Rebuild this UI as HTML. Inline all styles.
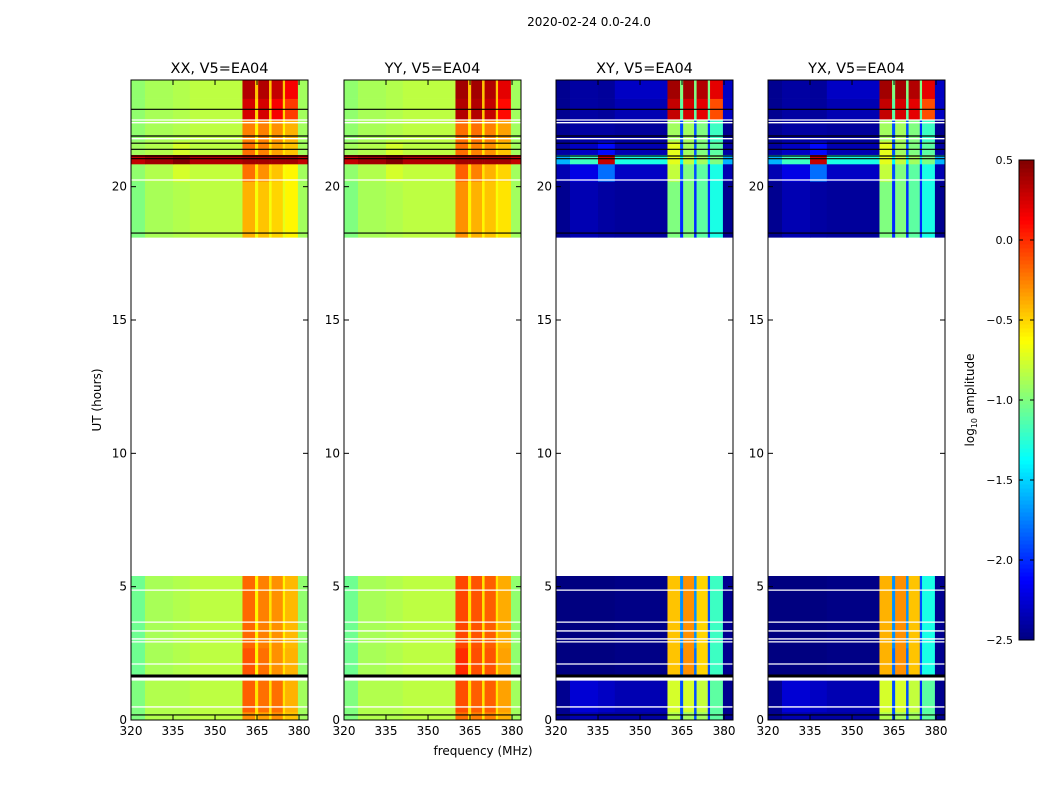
<!DOCTYPE html>
<html><head><meta charset="utf-8"><style>
body{margin:0;background:#fff;}
svg text{font-family:"DejaVu Sans","Liberation Sans",sans-serif;fill:#000;}
</style></head><body>
<svg id="chart" width="1050" height="800" xmlns="http://www.w3.org/2000/svg">
<text x="589" y="26" font-size="12" text-anchor="middle">2020-02-24 0.0-24.0</text>
<text x="101" y="400" font-size="12" text-anchor="middle" transform="rotate(-90 101 400)">UT (hours)</text>
<text x="483" y="755" font-size="12" text-anchor="middle">frequency (MHz)</text>
<g id="panels"></g>
<g id="cbar"></g>
</svg>
<script>
const panelNames = ["XX, V5=EA04","YY, V5=EA04","XY, V5=EA04","YX, V5=EA04"];
const freqEdges = [320,325,335,341,359.8,364.3,365.4,369.3,370.2,374.2,375,379.6,383.2];
const timeEdges = [[0,0.3],[0.3,1.5],[1.65,2.7],[2.7,5.4],[18.1,20.2],[20.2,20.85],[20.85,21.2],[21.2,21.7],[21.7,22.5],[22.5,23.3],[23.3,24]];
const xxValues = [
[-1.0,-0.85,-0.85,-0.82,-0.3,-0.55,-0.35,-0.55,-0.3,-0.55,-0.45,-0.9],
[-1.0,-0.85,-0.85,-0.82,-0.15,-0.55,-0.2,-0.55,-0.2,-0.55,-0.4,-0.9],
[-1.05,-0.88,-0.85,-0.82,-0.12,-0.6,-0.2,-0.55,-0.3,-0.55,-0.4,-0.95],
[-1.05,-0.88,-0.85,-0.82,-0.18,-0.6,-0.25,-0.55,-0.3,-0.6,-0.42,-0.95],
[-1.0,-0.88,-0.85,-0.82,-0.4,-0.65,-0.45,-0.65,-0.5,-0.7,-0.6,-0.9],
[-0.95,-0.85,-0.75,-0.8,-0.2,-0.55,-0.3,-0.55,-0.45,-0.65,-0.6,-0.9],
[0.3,0.4,0.5,0.35,0.4,0.4,0.4,0.4,0.4,0.4,0.4,0.3],
[-0.9,-0.85,-0.75,-0.82,-0.2,-0.55,-0.25,-0.55,-0.35,-0.55,-0.45,-0.9],
[-0.95,-0.88,-0.85,-0.82,-0.25,-0.6,-0.25,-0.6,-0.3,-0.6,-0.4,-0.9],
[-0.95,-0.88,-0.85,-0.82,0.25,-0.5,0.25,-0.5,0.15,-0.5,-0.05,-0.9],
[-0.95,-0.88,-0.85,-0.82,0.35,-0.45,0.35,-0.45,0.3,-0.45,0.15,-0.9]];
const yyValues = [
[-1.0,-0.85,-0.85,-0.82,-0.2,-0.55,-0.25,-0.55,-0.25,-0.55,-0.4,-0.9],
[-1.0,-0.85,-0.85,-0.82,-0.1,-0.55,-0.15,-0.55,-0.15,-0.55,-0.35,-0.9],
[-1.05,-0.88,-0.85,-0.82,0.0,-0.55,-0.1,-0.55,-0.12,-0.55,-0.35,-0.95],
[-1.05,-0.88,-0.85,-0.82,-0.08,-0.55,-0.12,-0.55,-0.15,-0.55,-0.38,-0.95],
[-1.0,-0.88,-0.85,-0.82,-0.3,-0.6,-0.4,-0.6,-0.45,-0.65,-0.55,-0.9],
[-0.95,-0.85,-0.75,-0.8,-0.15,-0.55,-0.25,-0.55,-0.4,-0.6,-0.5,-0.9],
[0.3,0.4,0.5,0.35,0.4,0.4,0.4,0.4,0.4,0.4,0.4,0.3],
[-0.9,-0.85,-0.75,-0.82,-0.2,-0.55,-0.25,-0.55,-0.3,-0.55,-0.45,-0.9],
[-0.95,-0.88,-0.85,-0.82,-0.2,-0.6,-0.2,-0.6,-0.25,-0.6,-0.35,-0.9],
[-0.95,-0.88,-0.85,-0.82,0.35,-0.45,0.35,-0.45,0.3,-0.45,0.1,-0.9],
[-0.95,-0.88,-0.85,-0.82,0.4,-0.45,0.4,-0.45,0.35,-0.45,0.2,-0.9]];
const xyValues = [
[-2.45,-2.35,-2.4,-2.4,-0.85,-1.9,-0.9,-1.9,-0.9,-2.0,-1.1,-2.45],
[-2.45,-2.25,-2.3,-2.35,-0.75,-1.9,-0.75,-1.9,-0.8,-2.0,-1.1,-2.45],
[-2.5,-2.5,-2.5,-2.48,-0.45,-1.8,-0.3,-1.8,-0.5,-1.9,-1.2,-2.45],
[-2.5,-2.5,-2.5,-2.48,-0.45,-1.7,-0.3,-1.7,-0.5,-1.9,-1.2,-2.45],
[-2.45,-2.35,-2.4,-2.42,-1.0,-2.0,-1.0,-2.0,-1.1,-2.0,-1.3,-2.45],
[-2.35,-2.2,-1.8,-2.3,-0.8,-1.9,-1.0,-1.9,-1.1,-2.0,-1.3,-2.35],
[-1.6,-1.2,0.3,-1.3,-0.7,-1.4,-0.8,-1.4,-0.9,-1.4,-1.0,-1.6],
[-2.4,-2.3,-2.1,-2.35,-0.7,-1.9,-0.9,-1.9,-1.0,-2.0,-1.1,-2.4],
[-2.45,-2.4,-2.4,-2.42,-0.9,-1.9,-0.9,-1.9,-1.0,-2.0,-1.2,-2.45],
[-2.45,-2.4,-2.42,-2.35,0.3,-1.1,0.25,-1.1,0.2,-1.1,-0.1,-2.3],
[-2.45,-2.4,-2.42,-2.3,0.4,-1.0,0.4,-1.0,0.35,-1.0,0.2,-2.3]];
const yxValues = [
[-2.45,-2.35,-2.4,-2.4,-0.85,-1.9,-0.9,-1.9,-0.9,-2.0,-1.1,-2.45],
[-2.45,-2.25,-2.3,-2.35,-0.75,-1.9,-0.75,-1.9,-0.8,-2.0,-1.1,-2.45],
[-2.5,-2.5,-2.5,-2.48,-0.4,-1.8,-0.3,-1.8,-0.45,-1.9,-1.3,-2.45],
[-2.5,-2.5,-2.5,-2.48,-0.4,-1.7,-0.3,-1.7,-0.45,-1.9,-1.3,-2.45],
[-2.45,-2.35,-2.4,-2.42,-1.0,-2.0,-1.0,-2.0,-1.1,-2.0,-1.3,-2.45],
[-2.35,-2.2,-1.8,-2.3,-0.8,-1.9,-1.0,-1.9,-1.1,-2.0,-1.3,-2.35],
[-1.6,-1.2,0.3,-1.3,-0.7,-1.4,-0.8,-1.4,-0.9,-1.4,-1.0,-1.6],
[-2.4,-2.3,-2.1,-2.35,-0.7,-1.9,-0.9,-1.9,-1.0,-2.0,-1.1,-2.4],
[-2.45,-2.4,-2.4,-2.42,-0.9,-1.9,-0.9,-1.9,-1.0,-2.0,-1.2,-2.45],
[-2.45,-2.4,-2.42,-2.35,0.3,-1.1,0.25,-1.1,0.2,-1.1,-0.1,-2.3],
[-2.45,-2.4,-2.42,-2.3,0.4,-1.0,0.4,-1.0,0.35,-1.0,0.2,-2.3]];
const panelValues = [xxValues, yyValues, xyValues, yxValues];
const blackLines = [0.19,1.65,18.26,21.05,21.15,21.4,21.63,21.9,22.9];
const whiteLines = [0.49,1.5,2.1,2.93,3.04,3.34,3.67,4.87,20.25,21.8,22.4,22.5];
const yTicks = [0,5,10,15,20];
const xTicks = [320,335,350,365,380];
const cbarTicks = [-2.5,-2.0,-1.5,-1.0,-0.5,0.0,0.5];

const NS="http://www.w3.org/2000/svg";
const panelX=[131,344,556,768], PW=177, PT=80, PB=720;
const FMIN=320, FMAX=383.2, TMIN=0, TMAX=24, VMIN=-2.5, VMAX=0.5;
function mk(tag,attrs,parent){const e=document.createElementNS(NS,tag);for(const k in attrs)e.setAttribute(k,attrs[k]);parent.appendChild(e);return e;}
function jet(v){let x=(v-VMIN)/(VMAX-VMIN);x=Math.max(0,Math.min(1,x));
 const c=t=>Math.round(255*Math.max(0,Math.min(1,1.5-Math.abs(t))));
 return `rgb(${c(4*x-3)},${c(4*x-2)},${c(4*x-1)})`;}
const pg=document.getElementById('panels');
panelX.forEach((x0,p)=>{
 const xs=f=>x0+(f-FMIN)/(FMAX-FMIN)*PW;
 const ys=t=>PB-(t-TMIN)/(TMAX-TMIN)*(PB-PT);
 const g=mk('g',{},pg);
 
 
 const vals=panelValues[p];
 timeEdges.forEach((te,r)=>{
  for(let c=0;c<freqEdges.length-1;c++){
   const rc=mk('rect',{x:xs(freqEdges[c]),y:ys(te[1]),width:xs(freqEdges[c+1])-xs(freqEdges[c])+0.3,height:ys(te[0])-ys(te[1])+0.3,fill:jet(vals[r][c])},g);
   
   
  }
 });
 blackLines.forEach(t=>{const l=mk('line',{x1:x0,x2:x0+PW,y1:ys(t),y2:ys(t),stroke:'#000','stroke-width':(t===1.65?3:1.2)},g);
  
  });
 whiteLines.forEach(t=>{const l=mk('line',{x1:x0,x2:x0+PW,y1:ys(t),y2:ys(t),stroke:'#fff','stroke-width':1.3},g);
  
  });
 const fr=mk('rect',{x:x0,y:PT,width:PW,height:PB-PT,fill:'none',stroke:'#000','stroke-width':1},g);
 
 
 const tt=mk('text',{x:x0+PW/2,y:PT-7,'font-size':'14.5','text-anchor':'middle'},g);tt.textContent=panelNames[p];
 
 
 yTicks.forEach(t=>{const y=ys(t);
  mk('line',{x1:x0,x2:x0+5,y1:y,y2:y,stroke:'#000'},g);mk('line',{x1:x0+PW,x2:x0+PW-5,y1:y,y2:y,stroke:'#000'},g);
  const tx=mk('text',{x:x0-4,y:y+4,'font-size':'12','text-anchor':'end'},g);tx.textContent=t;
  
  });
 xTicks.forEach(f=>{const x=xs(f);
  mk('line',{x1:x,x2:x,y1:PB,y2:PB-5,stroke:'#000'},g);mk('line',{x1:x,x2:x,y1:PT,y2:PT+5,stroke:'#000'},g);
  const tx=mk('text',{x:x,y:PB+15,'font-size':'12','text-anchor':'middle'},g);tx.textContent=f;
  
  });
});
const cg=document.getElementById('cbar');


const CX=1019,CW=15,CT=160,CB=640;
const cys=v=>CB-(v-VMIN)/(VMAX-VMIN)*(CB-CT);
for(let i=0;i<120;i++){const v0=VMIN+(VMAX-VMIN)*i/120,v1=VMIN+(VMAX-VMIN)*(i+1)/120;
 mk('rect',{x:CX,y:cys(v1),width:CW,height:cys(v0)-cys(v1)+0.5,fill:jet((v0+v1)/2)},cg);}
mk('rect',{x:CX,y:CT,width:CW,height:CB-CT,fill:'none',stroke:'#000'},cg);
cbarTicks.forEach(v=>{const y=cys(v);
 mk('line',{x1:CX,x2:CX+4,y1:y,y2:y,stroke:'#000'},cg);mk('line',{x1:CX+CW,x2:CX+CW-4,y1:y,y2:y,stroke:'#000'},cg);
 const tx=mk('text',{x:CX-6,y:y+4,'font-size':'11','text-anchor':'end'},cg);tx.textContent=v.toFixed(1).replace('-','\u2212');
 
 });
const cl=mk('text',{x:974,y:400,'font-size':'12','text-anchor':'middle',transform:'rotate(-90 974 400)'},cg);


cl.innerHTML='log<tspan font-size="8" dy="3">10</tspan><tspan dy="-3"> amplitude</tspan>';
</script>
</body></html>
